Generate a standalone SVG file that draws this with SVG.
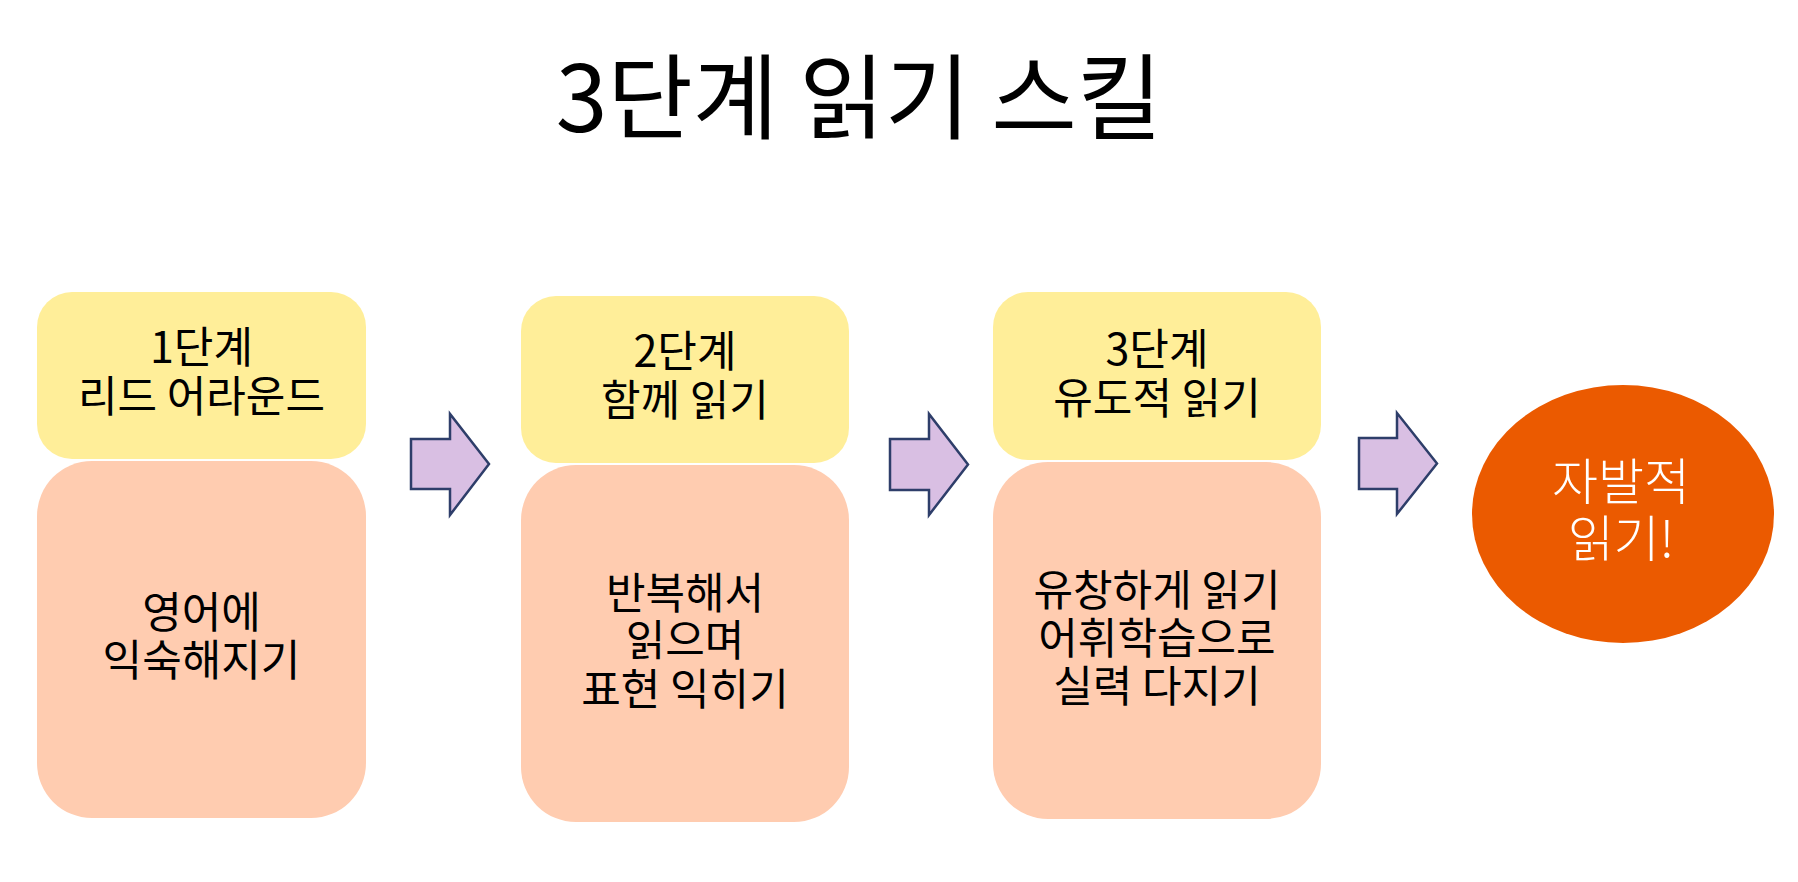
<svg xmlns="http://www.w3.org/2000/svg" width="1798" height="882" viewBox="0 0 1798 882">
<style>
text{font-family:"Noto Sans CJK KR","Noto Sans",sans-serif;text-anchor:middle;fill:#000}
.t{font-size:93px}
.l{font-size:43px}
.w{font-size:50px;fill:#fff;font-weight:300}
.y{fill:#FFEE99}
.p{fill:#FFCCB0}
.a{fill:#D9BFE3;stroke:#2E3E6A;stroke-width:2.5;stroke-linejoin:miter}
</style>
<rect width="1798" height="882" fill="#fff"/>
<g id="title"><text class="t" x="859" y="132">3단계 읽기 스킬</text></g>
<g id="step1">
<rect class="y" x="37" y="292" width="329" height="167" rx="35"/>
<text class="l" x="201.5" y="363">1단계</text>
<text class="l" x="201.5" y="412">리드 어라운드</text>
<rect class="p" x="37" y="461" width="329" height="357" rx="55"/>
<text class="l" x="201.5" y="628">영어에</text>
<text class="l" x="201.5" y="676">익숙해지기</text>
</g>
<g id="step2">
<rect class="y" x="521" y="296" width="328" height="167" rx="35"/>
<text class="l" x="685" y="367">2단계</text>
<text class="l" x="685" y="416">함께 읽기</text>
<rect class="p" x="521" y="465" width="328" height="357" rx="55"/>
<text class="l" x="685" y="609">반복해서</text>
<text class="l" x="685" y="656">읽으며</text>
<text class="l" x="685" y="705">표현 익히기</text>
</g>
<g id="step3">
<rect class="y" x="993" y="292" width="328" height="168" rx="35"/>
<text class="l" x="1157" y="365">3단계</text>
<text class="l" x="1157" y="414">유도적 읽기</text>
<rect class="p" x="993" y="462" width="328" height="357" rx="55"/>
<text class="l" x="1157" y="606">유창하게 읽기</text>
<text class="l" x="1157" y="654">어휘학습으로</text>
<text class="l" x="1157" y="702">실력 다지기</text>
</g>
<g id="goal">
<ellipse cx="1623" cy="514" rx="151" ry="129" fill="#EB5A00"/>
<text class="w" x="1621" y="500">자발적</text>
<text class="w" x="1621" y="557">읽기!</text>
</g>
<g id="connectors">
<path class="a" d="M411,439 H450 V414 L489,464 L450,515 V489 H411 Z"/>
<path class="a" d="M890,439 H929 V414 L968,464.5 L929,515 V490 H890 Z"/>
<path class="a" d="M1359,438 H1397 V413 L1437,463.5 L1397,514 V489 H1359 Z"/>
</g>
</svg>
